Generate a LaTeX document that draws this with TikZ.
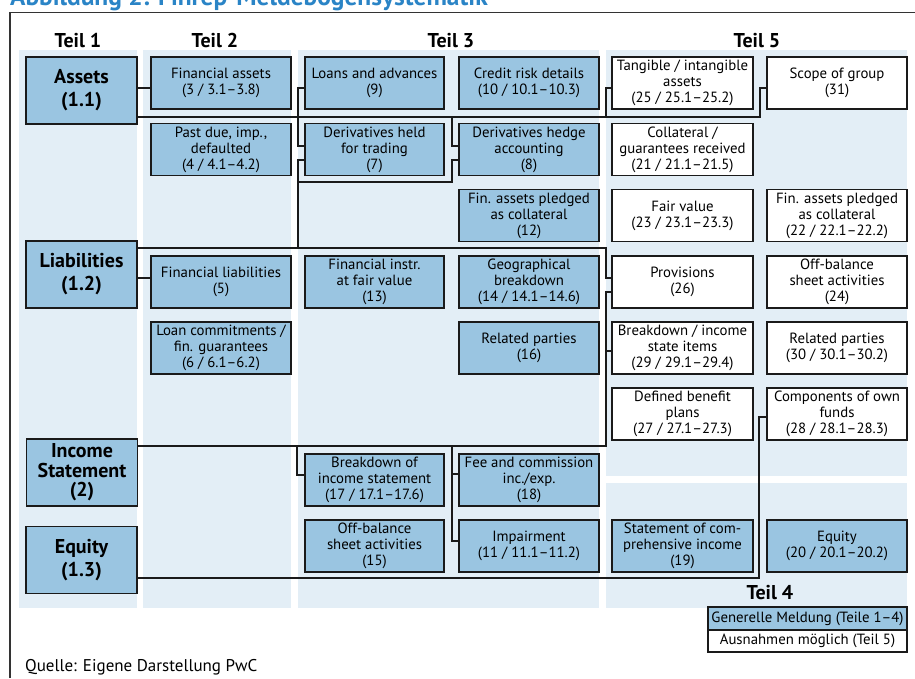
\documentclass[tikz,border=0pt]{standalone}
\usepackage{fontspec}
\setmainfont{PT Sans}
\usetikzlibrary{calc}
\definecolor{boxblue}{HTML}{9AC5E1}
\definecolor{bgblue}{HTML}{E3EEF6}
\definecolor{titleblue}{HTML}{2A84C6}
\definecolor{linecol}{HTML}{1A1A1A}
\begin{document}
\begin{tikzpicture}[x=1pt,y=-1pt,
  base/.style={draw=linecol, line width=1.1pt, inner sep=0pt, align=center, font=\fontsize{14.8}{16}\selectfont, text=black},
  bluebox/.style={base, fill=boxblue, minimum width=140pt, minimum height=52pt},
  whitebox/.style={base, fill=white, minimum width=140pt, minimum height=52pt},
  mainbox/.style={base, fill=boxblue, minimum width=111pt, minimum height=67pt, font=\fontsize{20}{23}\selectfont\bfseries},
  conn/.style={draw=linecol, line width=1.4pt},
  teil/.style={font=\fontsize{20}{24}\selectfont\bfseries, anchor=base},
  legbox/.style={base, minimum width=199pt}
]
\useasboundingbox (0,0) rectangle (915,678);
\fill[white] (0,0) rectangle (915,678);
% panels
\fill[bgblue] (19,50) rectangle (137,608);
\fill[bgblue] (143,50) rectangle (291,608);
\fill[bgblue] (298,50) rectangle (599,608);
\fill[bgblue] (606,50) rectangle (907,476);
\fill[bgblue] (606,483) rectangle (907,608);
% frame
\draw[line width=1.3pt, color=black!80] (10,678) -- (10,12.5) -- (915,12.5);
\node[anchor=base west, text=titleblue, font=\fontsize{25.4}{30}\selectfont\bfseries, inner sep=0pt] (title) at (10,5.5) {Abbildung 2: Finrep-Meldebogensystematik};
% headers
\node[teil] (t1) at (78,47) {Teil 1};
\node[teil] (t2) at (215,47) {Teil 2};
\node[teil] (t3) at (451,47) {Teil 3};
\node[teil] (t5) at (757,47) {Teil 5};
\node[teil] (t4) at (770,599) {Teil 4};
% Teil 1
\node[mainbox, line width=2.2pt] (assets) at (81.5,90.5) {Assets\\(1.1)};
\node[mainbox] (liab) at (81.5,274.5) {Liabilities\\(1.2)};
\node[mainbox, font=\fontsize{20}{19.5}\selectfont\bfseries] (inc) at (82,472.5) {Income\\Statement\\(2)};
\node[mainbox] (eq) at (81.5,560) {Equity\\(1.3)};
% Teil 2
\node[bluebox] (fa) at (221,83) {Financial assets\\(3 / 3.1--3.8)};
\node[bluebox] (pd) at (221,149.5) {Past due, imp.,\\defaulted\\(4 / 4.1--4.2)};
\node[bluebox] (fl) at (221,282) {Financial liabilities\\(5)};
\node[bluebox] (lc) at (221,348) {Loan commitments /\\fin. guarantees\\(6 / 6.1--6.2)};
% Teil 3 a
\node[bluebox, minimum width=139pt] (loans) at (374.5,83) {Loans and advances\\(9)};
\node[bluebox, minimum width=139pt] (dht) at (374.5,149.5) {Derivatives held\\for trading\\(7)};
\node[bluebox, minimum width=139pt] (fiv) at (374.5,282) {Financial instr.\\at fair value\\(13)};
\node[bluebox, minimum width=139pt] (bois) at (374.5,480) {Breakdown of\\income statement\\(17 / 17.1--17.6)};
\node[bluebox, minimum width=139pt] (obs) at (374.5,546) {Off-balance\\sheet activities\\(15)};
% Teil 3 b
\node[bluebox] (crd) at (529,83) {Credit risk details\\(10 / 10.1--10.3)};
\node[bluebox] (dha) at (529,149.5) {Derivatives hedge\\accounting\\(8)};
\node[bluebox] (fap) at (529,215.5) {Fin. assets pledged\\as collateral\\(12)};
\node[bluebox] (geo) at (529,282) {Geographical\\breakdown\\(14 / 14.1--14.6)};
\node[bluebox] (rp) at (529,348) {Related parties\\(16)};
\node[bluebox] (fee) at (529,480) {Fee and commission\\inc./exp.\\(18)};
\node[bluebox] (imp) at (529,546) {Impairment\\(11 / 11.1--11.2)};
% Teil 5 a
\node[whitebox, minimum width=141pt] (tang) at (682.5,83) {Tangible / intangible\\assets\\(25 / 25.1--25.2)};
\node[whitebox, minimum width=141pt] (coll) at (682.5,149.5) {Collateral /\\guarantees received\\(21 / 21.1--21.5)};
\node[whitebox, minimum width=141pt] (fv) at (682.5,215.5) {Fair value\\(23 / 23.1--23.3)};
\node[whitebox, minimum width=141pt] (prov) at (682.5,282) {Provisions\\(26)};
\node[whitebox, minimum width=141pt] (bis) at (682.5,348) {Breakdown / income\\state items\\(29 / 29.1--29.4)};
\node[whitebox, minimum width=141pt] (dbp) at (682.5,414) {Defined benefit\\plans\\(27 / 27.1--27.3)};
\node[bluebox, minimum width=141pt] (sci) at (682.5,546) {Statement of com-\\prehensive income\\(19)};
% Teil 5 b
\node[whitebox] (scope) at (837,83) {Scope of group\\(31)};
\node[whitebox] (fap2) at (837,215.5) {Fin. assets pledged\\as collateral\\(22 / 22.1--22.2)};
\node[whitebox] (obs2) at (837,282) {Off-balance\\sheet activities\\(24)};
\node[whitebox] (rp2) at (837,348) {Related parties\\(30 / 30.1--30.2)};
\node[whitebox] (cof) at (837,414) {Components of own\\funds\\(28 / 28.1--28.3)};
\node[bluebox] (eq2) at (837,546) {Equity\\(20 / 20.1--20.2)};
% legend
\node[legbox, fill=boxblue, minimum height=23pt] (leg1) at (807.5,618.5) {Generelle Meldung (Teile 1--4)};
\node[legbox, fill=white, minimum height=22pt] (leg2) at (807.5,641) {Ausnahmen möglich (Teil 5)};
\node[anchor=base west, font=\fontsize{17}{20}\selectfont, inner sep=0pt] (src) at (25,671) {Quelle: Eigene Darstellung PwC};
% connectors: Assets
\draw[conn] (assets.east |- 0,88) -- (fa.west |- 0,88);
\draw[conn] (assets.east |- 0,117) -- (760,117) |- (scope.west |- 0,88);
\draw[conn] (606,117) |- (tang.west |- 0,88);
\draw[conn] (loans.west |- 0,88) -| (298,146) -- (dht.west |- 0,146);
\draw[conn] (452,117) |- (dha.west |- 0,146);
% Liabilities
\draw[conn] (liab.east |- 0,278) -- (fl.west |- 0,278);
\draw[conn] (liab.east |- 0,248) -- (606,248) |- (prov.west |- 0,278);
\draw[conn] (298,248) |- (dht.west |- 0,160);
\draw[conn] (298,182) -| (452,160) -- (dha.west |- 0,160);
% Income statement
\draw[conn] (inc.east |- 0,446) -| (606,292) -- (prov.west |- 0,292);
\draw[conn] (606,351) -- (bis.west |- 0,351);
\draw[conn] (297,446) |- (bois.west |- 0,475);
\draw[conn] (452,446) |- (imp.west |- 0,541);
\draw[conn] (452,474) -- (fee.west |- 0,474);
% Equity
\draw[conn] (eq.east |- 0,578) -| (759,417) -- (cof.west |- 0,417);
\end{tikzpicture}
\end{document}
